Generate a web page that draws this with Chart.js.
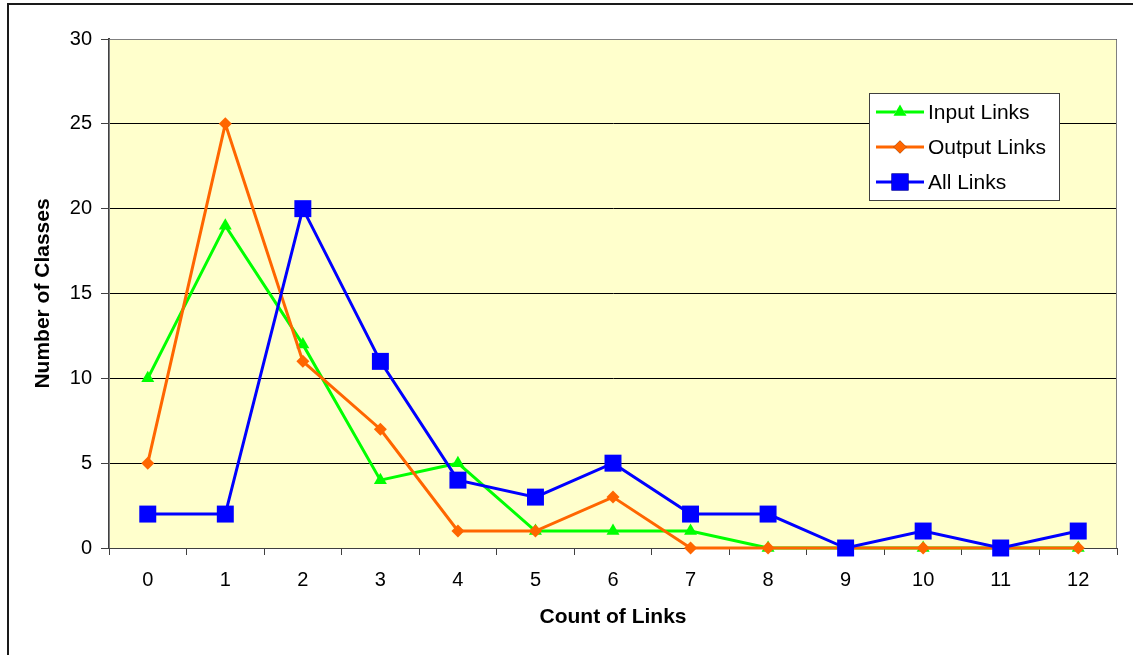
<!DOCTYPE html>
<html>
<head>
<meta charset="utf-8">
<script src="https://cdn.jsdelivr.net/npm/chart.js@4.4.1/dist/chart.umd.min.js"></script>
<style>
  html, body { margin: 0; padding: 0; background: #ffffff; }
  #wrap { position: relative; width: 1133px; height: 655px; }
</style>
</head>
<body>
<div id="wrap"><canvas id="c" width="1133" height="655"></canvas></div>
<script>
const categories = ['0','1','2','3','4','5','6','7','8','9','10','11','12'];
const inputLinks  = [10, 19, 12, 4, 5, 1, 1, 1, 0, 0, 0, 0, 0];
const outputLinks = [5, 25, 11, 7, 1, 1, 3, 0, 0, 0, 0, 0, 0];
const allLinks    = [2, 2, 20, 11, 4, 3, 5, 2, 2, 0, 1, 0, 1];
const seriesNames = ['Input Links', 'Output Links', 'All Links'];
const yTicks = [0, 5, 10, 15, 20, 25, 30];
const xTitle = 'Count of Links';
const yTitle = 'Number of Classes';

const FONT = '"Liberation Sans", Arial, sans-serif';

const plotBg = {
  id: 'plotBg',
  beforeDraw(chart) {
    const { ctx, chartArea: a } = chart;
    ctx.save();
    ctx.fillStyle = '#FFFFCC';
    ctx.fillRect(a.left, a.top, a.right - a.left, a.bottom - a.top);
    // outer frame (top & left visible)
    ctx.strokeStyle = '#1a1a1a';
    ctx.lineWidth = 2;
    ctx.beginPath();
    ctx.moveTo(8, 655);
    ctx.lineTo(8, 4);
    ctx.lineTo(1133, 4);
    ctx.stroke();
    ctx.restore();
  },
  afterDatasetsDraw(chart) {
    const { ctx, chartArea: a } = chart;
    ctx.save();
    ctx.strokeStyle = '#808080';
    ctx.lineWidth = 1;
    ctx.beginPath();
    ctx.moveTo(a.left + 0.5, a.bottom);
    ctx.lineTo(a.left + 0.5, a.top + 0.5);
    ctx.lineTo(a.right - 0.5, a.top + 0.5);
    ctx.lineTo(a.right - 0.5, a.bottom);
    ctx.stroke();
    ctx.restore();
  }
};

const boxLegend = {
  id: 'boxLegend',
  afterDraw(chart) {
    const { ctx } = chart;
    const x0 = 869, y0 = 93, w = 190, h = 107;
    ctx.save();
    ctx.fillStyle = '#ffffff';
    ctx.fillRect(x0, y0, w, h);
    ctx.strokeStyle = '#404040';
    ctx.lineWidth = 1;
    ctx.strokeRect(x0 + 0.5, y0 + 0.5, w, h);
    const rows = [112, 147, 182];
    chart.data.datasets.forEach((ds, i) => {
      const y = rows[i];
      ctx.strokeStyle = ds.borderColor;
      ctx.lineWidth = ds.borderWidth;
      ctx.beginPath();
      ctx.moveTo(876, y);
      ctx.lineTo(924, y);
      ctx.stroke();
      Chart.helpers.drawPoint(ctx, {
        pointStyle: ds.pointStyle,
        radius: ds.pointRadius,
        borderWidth: 0,
        rotation: 0
      }, 900, y);
      ctx.fillStyle = ds.pointBackgroundColor;
      ctx.fill();
      ctx.fillStyle = '#000000';
      ctx.font = '21px ' + FONT;
      ctx.textBaseline = 'middle';
      ctx.textAlign = 'left';
      ctx.fillText(ds.label, 928, y + 1);
    });
    ctx.restore();
  }
};

function mkSeries(label, data, color, style, radius, order) {
  return {
    label, data, order,
    borderColor: color,
    backgroundColor: color,
    pointBackgroundColor: color,
    pointBorderColor: color,
    pointBorderWidth: 0,
    borderWidth: 3,
    pointStyle: style,
    pointRadius: radius,
    pointHoverRadius: radius,
    tension: 0,
    clip: false
  };
}

new Chart(document.getElementById('c'), {
  type: 'line',
  data: {
    labels: categories,
    datasets: [
      mkSeries(seriesNames[0], inputLinks, '#00FF00', 'triangle', 7.5, 3),
      mkSeries(seriesNames[1], outputLinks, '#FF6600', 'rectRot', 6.5, 2),
      mkSeries(seriesNames[2], allLinks, '#0000FF', 'rect', 12, 1)
    ]
  },
  options: {
    responsive: false,
    animation: false,
    devicePixelRatio: 1,
    layout: { padding: { left: 8, top: 39, right: 16, bottom: 25 } },
    plugins: {
      legend: { display: false },
      tooltip: { enabled: false }
    },
    scales: {
      x: {
        type: 'category',
        offset: true,
        afterFit(s) { s.height = 82; },
        grid: {
          offset: true,
          drawOnChartArea: false,
          drawTicks: true,
          tickLength: 7,
          color: '#404040',
          tickColor: '#404040'
        },
        border: { display: true, color: '#404040', width: 1 },
        ticks: {
          color: '#000000',
          font: { family: FONT, size: 20 },
          padding: 13,
          maxRotation: 0,
          autoSkip: false
        },
        title: {
          display: true,
          text: xTitle,
          color: '#000000',
          font: { family: FONT, size: 21, weight: 'bold' },
          padding: { top: 12, bottom: 0 }
        }
      },
      y: {
        min: 0,
        max: 30,
        afterFit(s) { s.width = 101; },
        afterBuildTicks(s) { s.ticks = yTicks.map(v => ({ value: v })); },
        grid: {
          drawOnChartArea: true,
          drawTicks: true,
          tickLength: 8,
          color: '#000000',
          tickColor: '#404040',
          lineWidth: 1
        },
        border: { display: true, color: '#404040', width: 2 },
        ticks: {
          color: '#000000',
          font: { family: FONT, size: 20 },
          padding: 9
        },
        title: {
          display: true,
          text: yTitle,
          color: '#000000',
          font: { family: FONT, size: 21, weight: 'bold' },
          padding: { top: 23, bottom: 0 }
        }
      }
    }
  },
  plugins: [plotBg, boxLegend]
});
</script>
</body>
</html>
